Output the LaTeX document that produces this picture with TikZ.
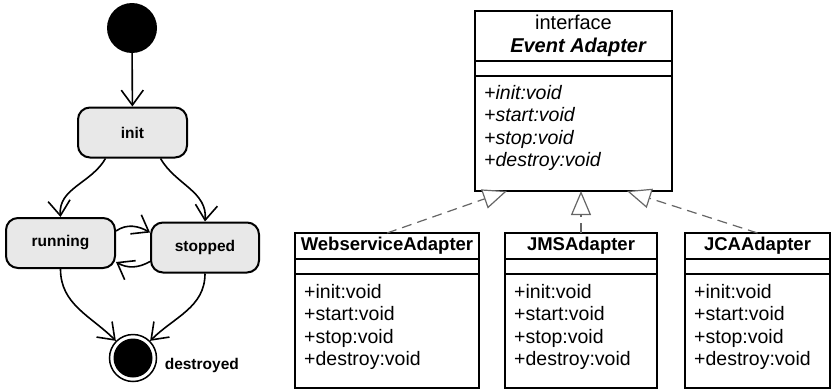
\documentclass[tikz,border=0pt]{standalone}
\usepackage{fontspec}
\setmainfont{Liberation Sans}
\usetikzlibrary{arrows.meta,positioning,calc}

\begin{document}
\begin{tikzpicture}[x=1pt,y=1pt,
  state/.style={draw,line width=2pt,rounded corners=12pt,fill=black!9,minimum height=50pt,
    font=\fontsize{15.5}{18}\selectfont\bfseries},
  startst/.style={circle,fill=black,minimum size=50pt,inner sep=0pt},
  endst/.style={circle,draw,line width=1.5pt,minimum size=47pt,inner sep=0pt,
    path picture={\fill (path picture bounding box.center) circle (19.5pt);}},
  trans/.style={line width=1.6pt,-{Straight Barb[length=15pt,width=22pt,line width=1.6pt]}},
  cls/.style={draw,line width=1.3pt,outer sep=0pt,inner sep=0pt,font=\fontsize{19.5}{22.5}\selectfont},
  clsname/.style={cls,minimum height=26pt,font=\fontsize{18.5}{22.5}\selectfont\bfseries},
  clsattr/.style={cls,minimum height=15pt},
  clsops/.style={cls,minimum height=114pt},
  opstext/.style={anchor=north west,inner xsep=9pt,inner ysep=10pt,align=left,
    font=\fontsize{19.5}{22.5}\selectfont},
  realize/.style={dash pattern=on 10pt off 6pt,line width=1.2pt,draw=black!60,
    -{Triangle[open,length=24pt,width=20pt,fill=white]}}
]
\useasboundingbox (0,0) rectangle (832,-391);

% lifecycle
\node[startst] (start) at (132,-28) {};
\node[state,minimum width=109pt] (init) at (132.5,-132.5) {init};
\node[state,minimum width=109pt] (running) at (60.5,-243) {running};
\node[state,minimum width=108pt] (stopped) at (205,-247.5) {stopped};
\node[endst] (end) at (133,-358) {};
\node[right=4pt of end,yshift=-7pt,font=\fontsize{15.5}{18}\selectfont\bfseries] (endlabel) {destroyed};

\draw[trans] (start) -- (init);
\draw[trans] ($(init.south)+(-27,0)$) to[out=-120,in=95] (running.north);
\draw[trans] ($(init.south)+(28,0)$) to[out=-60,in=85] (stopped.north);
\draw[trans] ($(running.east)+(0,12)$) to[out=35,in=150] ($(stopped.west)+(0,15)$);
\draw[trans] ($(stopped.west)+(0,-14)$) to[out=-150,in=-30] ($(running.east)+(0,-19)$);
\draw[trans] (running.south) to[out=-90,in=135] (end.135);
\draw[trans] (stopped.south) to[out=-90,in=45] (end.45);

% interface
\node[cls,minimum width=197pt,minimum height=50pt,align=center,font=\fontsize{20}{22.5}\selectfont] (ifname) at (573.5,-36)
  {interface\\[1pt]\hspace*{10pt}\textbf{\textit{Event Adapter}}};
\node[clsattr,minimum width=197pt,below=0pt of ifname] (ifattr) {};
\node[clsops,minimum width=197pt,minimum height=115pt,below=0pt of ifattr] (ifops) {};
\node[opstext,inner ysep=9pt,font=\fontsize{19.5}{22.5}\selectfont\itshape] (iftext) at (ifops.north west)
  {+init:void\\+start:void\\+stop:void\\+destroy:void};

% adapters
\node[clsname,minimum width=184pt] (ws) at (387,-246) {WebserviceAdapter};
\node[clsattr,minimum width=184pt,below=0pt of ws] (wsattr) {};
\node[clsops,minimum width=184pt,below=0pt of wsattr] (wsops) {};
\node[opstext] (wstext) at (wsops.north west) {+init:void\\+start:void\\+stop:void\\+destroy:void};

\node[clsname,minimum width=152pt] (jms) at (581,-246) {JMSAdapter};
\node[clsattr,minimum width=152pt,below=0pt of jms] (jmsattr) {};
\node[clsops,minimum width=152pt,below=0pt of jmsattr] (jmsops) {};
\node[opstext] (jmstext) at (jmsops.north west) {+init:void\\+start:void\\+stop:void\\+destroy:void};

\node[clsname,minimum width=145pt] (jca) at (757.5,-246) {JCAAdapter};
\node[clsattr,minimum width=145pt,below=0pt of jca] (jcaattr) {};
\node[clsops,minimum width=145pt,below=0pt of jcaattr] (jcaops) {};
\node[opstext] (jcatext) at (jcaops.north west) {+init:void\\+start:void\\+stop:void\\+destroy:void};

\foreach \c in {ifattr,wsattr,jmsattr,jcaattr}
  \draw[line width=2pt] (\c.south west) -- (\c.south east);

\draw[realize] (ws.north) -- ($(ifops.south)+(-66.5,0)$);
\draw[realize] (jms.north) -- (jms.north |- ifops.south);
\draw[realize] (jca.north) -- ($(ifops.south)+(53.5,0)$);
\end{tikzpicture}
\end{document}
